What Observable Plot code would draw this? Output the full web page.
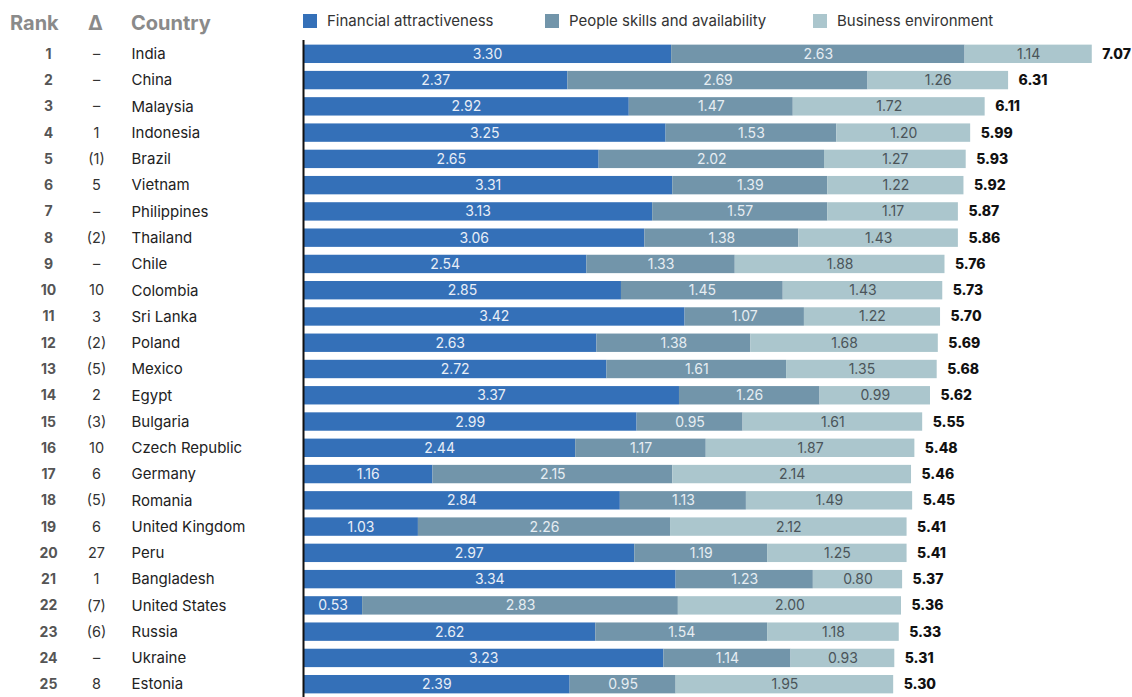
<!DOCTYPE html>
<html>
<head>
<meta charset="utf-8">
<script src="https://cdn.jsdelivr.net/npm/d3@7"></script>
<script src="https://cdn.jsdelivr.net/npm/@observablehq/plot@0.6"></script>
<style>
  body { margin: 0; background: #fff; font-family: "Inter", "Noto Sans", sans-serif; }
  #wrap { width: 1132px; }
  #header { position: relative; height: 40px; width: 1132px; }
  #header .h { position: absolute; top: 10px; font-size: 20px; font-weight: 700; color: #8a8a8a; line-height: 26px; }
  #header .sw { position: absolute; top: 14px; width: 14px; height: 14px; }
  #header .lt { position: absolute; top: 11px; font-size: 15px; color: #333; line-height: 20px; }
  svg { display: block; }
</style>
</head>
<body>
<div id="wrap">
  <div id="header"></div>
  <div id="chart"></div>
</div>
<script>
const ranks = [1,2,3,4,5,6,7,8,9,10,11,12,13,14,15,16,17,18,19,20,21,22,23,24,25];
const deltas = ["–","–","–","1","(1)","5","–","(2)","–","10","3","(2)","(5)","2","(3)","10","6","(5)","6","27","1","(7)","(6)","–","8"];
const countries = ["India","China","Malaysia","Indonesia","Brazil","Vietnam","Philippines","Thailand","Chile","Colombia","Sri Lanka","Poland","Mexico","Egypt","Bulgaria","Czech Republic","Germany","Romania","United Kingdom","Peru","Bangladesh","United States","Russia","Ukraine","Estonia"];
const financial = [3.30,2.37,2.92,3.25,2.65,3.31,3.13,3.06,2.54,2.85,3.42,2.63,2.72,3.37,2.99,2.44,1.16,2.84,1.03,2.97,3.34,0.53,2.62,3.23,2.39];
const people = [2.63,2.69,1.47,1.53,2.02,1.39,1.57,1.38,1.33,1.45,1.07,1.38,1.61,1.26,0.95,1.17,2.15,1.13,2.26,1.19,1.23,2.83,1.54,1.14,0.95];
const business = [1.14,1.26,1.72,1.20,1.27,1.22,1.17,1.43,1.88,1.43,1.22,1.68,1.35,0.99,1.61,1.87,2.14,1.49,2.12,1.25,0.80,2.00,1.18,0.93,1.95];
const totals = [7.07,6.31,6.11,5.99,5.93,5.92,5.87,5.86,5.76,5.73,5.70,5.69,5.68,5.62,5.55,5.48,5.46,5.45,5.41,5.41,5.37,5.36,5.33,5.31,5.30];
const seriesNames = ["Financial attractiveness","People skills and availability","Business environment"];
const seriesColors = ["#3470b8","#7295aa","#abc6cd"];
const labelColors = ["#e8eef7","#e6edf2","#4a5459"];

// header
const header = document.getElementById("header");
function addEl(cls, text, left, extra) {
  const d = document.createElement("div");
  d.className = cls;
  if (text) d.textContent = text;
  d.style.left = left + "px";
  if (extra) Object.assign(d.style, extra);
  header.appendChild(d);
  return d;
}
addEl("h", "Rank", 10);
addEl("h", "Δ", 88);
addEl("h", "Country", 131);
const legendX = [303, 545, 813];
seriesNames.forEach((n, i) => {
  addEl("sw", null, legendX[i], {background: seriesColors[i]});
  addEl("lt", n, legendX[i] + 24);
});

// data table for stacking
const rows = [];
countries.forEach((c, i) => {
  [financial, people, business].forEach((arr, k) => {
    rows.push({country: c, series: seriesNames[k], value: arr[i], k});
  });
});
const totalRows = countries.map((c, i) => ({country: c, total: totals[i], end: financial[i] + people[i] + business[i], rank: ranks[i], delta: deltas[i]}));

const x0 = 303;
const chart = Plot.plot({
  width: 1132,
  height: 657,
  marginLeft: x0,
  marginRight: 9,
  marginTop: 2,
  marginBottom: 1,
  style: {fontFamily: "Inter, 'Noto Sans', sans-serif"},
  x: {domain: [0, 7.35], axis: null},
  y: {domain: countries, axis: null, paddingInner: 0.3, paddingOuter: 0.1, round: false},
  color: {domain: seriesNames, range: seriesColors},
  marks: [
    Plot.barX(rows, Plot.stackX({x: "value", y: "country", fill: "series", order: seriesNames})),
    ...[0,1,2].map(k => Plot.text(rows, Plot.stackX({
      x: "value", y: "country", z: "series", order: seriesNames,
      text: d => d.k === k ? d.value.toFixed(2) : "", fill: labelColors[k], fontSize: 14, textAnchor: "middle"
    }))),
    Plot.text(totalRows, {x: "end", y: "country", text: d => d.total.toFixed(2), dx: 10, textAnchor: "start", fontWeight: 800, fontSize: 14, fill: "#111"}),
    Plot.text(totalRows, {y: "country", text: d => String(d.rank), frameAnchor: "left", dx: 48 - x0, textAnchor: "middle", fontWeight: 700, fontSize: 14, fill: "#555"}),
    Plot.text(totalRows, {y: "country", text: "delta", frameAnchor: "left", dx: 96 - x0, textAnchor: "middle", fontSize: 14.5, fill: "#333"}),
    Plot.text(totalRows, {y: "country", text: "country", frameAnchor: "left", dx: 131 - x0, textAnchor: "start", fontSize: 15, fill: "#222"}),
    Plot.ruleX([0], {stroke: "#111", strokeWidth: 2, insetTop: -2, insetBottom: -2})
  ]
});
document.getElementById("chart").appendChild(chart);
</script>
</body>
</html>
